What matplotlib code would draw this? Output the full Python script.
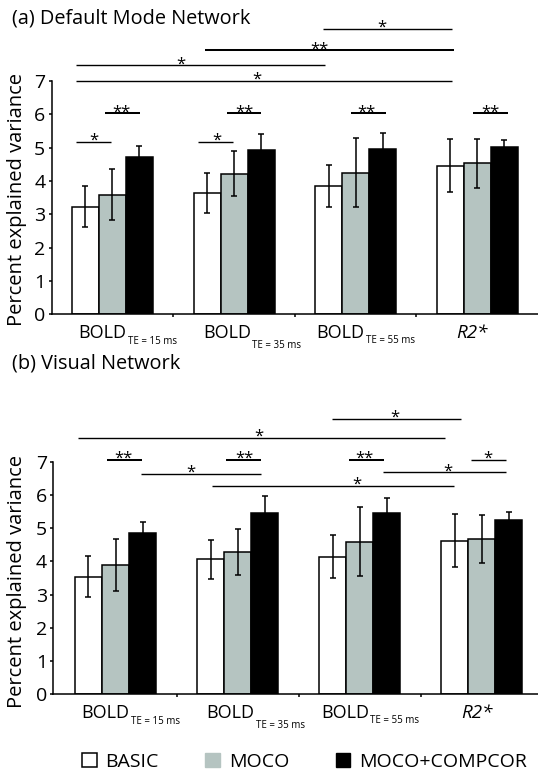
import matplotlib
matplotlib.use("Agg")
import matplotlib.pyplot as plt
from matplotlib.patches import Patch
import numpy as np

plt.rcParams['font.family'] = ['Open Sans', 'DejaVu Sans']

# categories
group_names = ['BOLD', 'BOLD', 'BOLD', 'R2*']
group_subs = ['TE = 15 ms', 'TE = 35 ms', 'TE = 55 ms', '']
methods = ['BASIC', 'MOCO', 'MOCO+COMPCOR']

# (a) default mode network
dmn_basic = [3.23, 3.65, 3.86, 4.46]
dmn_basic_err = [0.62, 0.60, 0.63, 0.80]
dmn_moco = [3.59, 4.22, 4.25, 4.53]
dmn_moco_err = [0.77, 0.68, 1.03, 0.73]
dmn_compcor = [4.72, 4.94, 4.97, 5.01]
dmn_compcor_err = [0.34, 0.48, 0.47, 0.23]

# (b) visual network
vis_basic = [3.54, 4.06, 4.14, 4.62]
vis_basic_err = [0.62, 0.59, 0.64, 0.80]
vis_moco = [3.89, 4.28, 4.59, 4.67]
vis_moco_err = [0.77, 0.69, 1.03, 0.73]
vis_compcor = [4.84, 5.46, 5.44, 5.25]
vis_compcor_err = [0.35, 0.49, 0.47, 0.24]

# significance brackets: (x start, x end, y, label, label x)
dmn_sig = [
    (-0.298, -0.014, 5.17, '*', -0.156),
    (-0.059, 0.226, 6.03, '**', 0.076),
    (0.703, 0.988, 5.17, '*', 0.855),
    (0.940, 1.225, 6.03, '**', 1.084),
    (1.964, 2.252, 6.03, '**', 2.088),
    (2.969, 3.254, 6.03, '**', 3.11),
    (-0.298, 2.794, 7.00, '*', 1.185),
    (-0.298, 1.744, 7.47, '*', 0.562),
    (0.759, 2.805, 7.92, '**', 1.70),
    (1.730, 2.794, 8.56, '*', 2.212),
]
vis_sig = [
    (-0.068, 0.213, 7.05, '**', 0.064),
    (0.908, 1.195, 7.05, '**', 1.054),
    (1.915, 2.202, 7.05, '**', 2.041),
    (2.913, 3.200, 7.05, '*', 3.053),
    (0.205, 1.195, 6.63, '*', 0.618),
    (2.188, 3.200, 6.68, '*', 2.722),
    (0.790, 2.770, 6.27, '*', 1.977),
    (-0.307, 2.699, 7.72, '*', 1.175),
    (1.771, 2.829, 8.29, '*', 2.286),
]

colors = ['white', '#b5c4c1', 'black']
bar_w = 0.222
x = np.arange(len(group_names))

# label placement (pixels): BOLD left offset from group centre, subscript drop
name_dx = [-34, -31, -39, -5]
sub_drop = [7, 10.5, 5.5, 0]

fig = plt.figure(figsize=(5.38, 7.73), dpi=100)
ax_a = fig.add_axes([0.0961, 0.5934, 0.9039, 0.3881])
ax_b = fig.add_axes([0.0991, 0.1018, 0.9009, 0.3871])


def draw_panel(ax, series, errs, sigs, xlim):
    for k in range(3):
        ax.bar(x + (k - 1) * bar_w, series[k], bar_w, color=colors[k],
               edgecolor='black', linewidth=1.1, zorder=2)
        ax.errorbar(x + (k - 1) * bar_w, series[k], yerr=errs[k], fmt='none',
                    ecolor='black', elinewidth=1.1, capsize=2.4, capthick=1.1, zorder=3)
    for x0, x1, y, lab, sx in sigs:
        ax.plot([x0, x1], [y, y], color='black', lw=1.45 if lab == '**' else 1.0,
                solid_capstyle='butt', zorder=3)
        ax.annotate(lab, xy=(sx, y), xytext=(0, -2.2), textcoords='offset points',
                    ha='center', va='baseline', fontsize=12)
    ax.set_xlim(*xlim)
    ax.set_ylim(0, 9)
    ax.set_facecolor('none')
    for s in ['top', 'right']:
        ax.spines[s].set_visible(False)
    ax.spines['left'].set_bounds(0, 7)
    ax.spines['left'].set_linewidth(1.1)
    ax.spines['bottom'].set_linewidth(1.1)
    ax.set_yticks(range(8))
    ax.tick_params(axis='y', labelsize=14, length=2.4, width=1.1, pad=2.2)
    ax.set_xticks([0.5, 1.5, 2.5])
    ax.set_xticklabels([])
    ax.tick_params(axis='x', length=2.2, width=1.1)
    for i in range(len(group_names)):
        if group_subs[i]:
            t = ax.annotate(group_names[i], xy=(x[i], 0), xycoords=('data', 'axes fraction'),
                            xytext=(name_dx[i] * 0.72, -24 * 0.72), textcoords='offset points',
                            ha='left', va='baseline', fontsize=13)
            ax.annotate(group_subs[i], xy=(1, 0), xycoords=t,
                        xytext=(1, (2.3 - sub_drop[i]) * 0.72), textcoords='offset points',
                        ha='left', va='bottom', fontsize=7)
        else:
            ax.annotate(group_names[i], xy=(x[i], 0), xycoords=('data', 'axes fraction'),
                        xytext=(name_dx[i] * 0.72, -24 * 0.72), textcoords='offset points',
                        ha='center', va='baseline', fontsize=13.5, style='italic')


draw_panel(ax_a, [dmn_basic, dmn_moco, dmn_compcor],
           [dmn_basic_err, dmn_moco_err, dmn_compcor_err], dmn_sig, (-0.5, 3.5))
draw_panel(ax_b, [vis_basic, vis_moco, vis_compcor],
           [vis_basic_err, vis_moco_err, vis_compcor_err], vis_sig, (-0.51, 3.46))

fig.text(12 / 538, 1 - 23.5 / 773, '(a) Default Mode Network', fontsize=14.3,
         ha='left', va='baseline')
fig.text(12 / 538, 1 - 368.3 / 773, '(b) Visual Network', fontsize=14.3,
         ha='left', va='baseline')
fig.text(17 / 538, 1 - 200 / 773, 'Percent explained variance', fontsize=14.5,
         rotation=90, ha='center', va='center')
fig.text(17 / 538, 1 - 581.7 / 773, 'Percent explained variance', fontsize=14.5,
         rotation=90, ha='center', va='center')

handles = [Patch(facecolor=colors[0], edgecolor='black', linewidth=1.1),
           Patch(facecolor=colors[1], edgecolor=colors[1]),
           Patch(facecolor=colors[2], edgecolor='black')]
fig.legend(handles, methods, loc='center', bbox_to_anchor=(0.566, 1 - 762 / 773),
           ncol=3, frameon=False, fontsize=14, handlelength=0.75, handleheight=0.75,
           handletextpad=0.45, columnspacing=2.4, borderaxespad=0, borderpad=0)

fig.savefig('out.png', dpi=100)
